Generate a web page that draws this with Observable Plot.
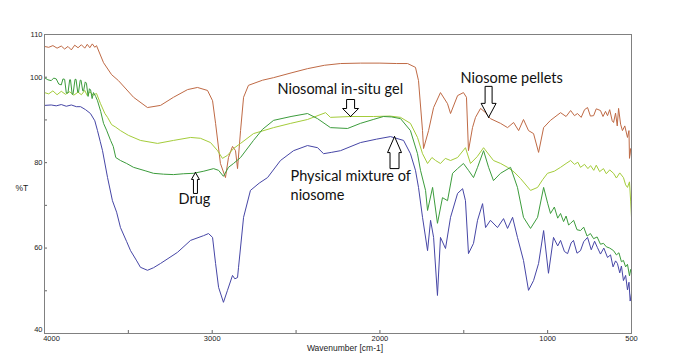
<!DOCTYPE html>
<html>
<head>
<meta charset="utf-8">
<script src="https://cdn.jsdelivr.net/npm/d3@7"></script>
<script src="https://cdn.jsdelivr.net/npm/@observablehq/plot@0.6"></script>
<style>
  html, body { margin: 0; padding: 0; background: #fff; }
  #chart svg { display: block; }
</style>
</head>
<body>
<div id="chart"></div>
<script>
// ---------- data (wavenumber cm-1, %T) ----------
const niosomePellets = [
  [4000,107.2],[3975,107.0],[3950,107.4],[3925,106.8],[3900,107.3],[3880,106.6],[3860,107.2],[3840,106.4],
  [3820,107.5],[3800,106.9],[3780,107.6],[3760,106.8],[3745,107.7],[3730,106.9],[3715,107.8],[3700,107.0],
  [3690,107.4],[3648,103.4],[3600,100.6],[3559,99.2],[3469,95.3],[3386,92.9],[3308,93.4],[3231,95.3],
  [3147,97.1],[3088,97.6],[3028,96.9],[2998,94.5],[2980,89.2],[2951,79.8],[2921,76.5],[2903,81.2],
  [2879,83.8],[2861,82.8],[2849,78.6],[2831,87.5],[2813,95.3],[2784,98.1],[2700,99.3],[2634,99.9],
  [2530,101.0],[2432,102.0],[2330,102.8],[2235,103.2],[2116,103.3],[2000,103.3],[1900,103.2],[1835,103.2],
  [1788,102.3],[1770,99.2],[1746,87.5],[1740,83.3],[1710,87.5],[1680,92.9],[1639,96.4],[1597,93.8],
  [1579,91.5],[1537,95.7],[1502,96.4],[1484,95.3],[1472,82.8],[1448,88.2],[1430,90.6],[1400,92.7],
  [1370,91.7],[1341,90.3],[1281,89.2],[1239,88.2],[1203,89.4],[1173,87.5],[1144,90.1],[1114,87.5],
  [1084,86.8],[1054,82.4],[1024,88.2],[983,89.9],[923,91.7],[890,90.8],[863,92.2],[840,91.0],[822,91.5],
  [800,90.6],[780,92.4],[762,92.9],[745,90.9],[726,91.0],[710,92.6],[685,92.2],[670,90.8],[655,92.0],
  [643,91.0],[630,92.4],[615,89.8],[607,89.4],[595,91.6],[585,88.6],[577,92.7],[565,89.0],[554,87.5],
  [540,88.6],[524,85.9],[515,87.5],[512,81.0],[505,83.3],[500,81.5]
];

const niosomalGel = [
  [4000,96.4],[3975,96.1],[3950,96.8],[3925,95.9],[3900,96.7],[3875,96.0],[3850,96.6],[3825,95.8],
  [3800,96.5],[3780,95.9],[3760,96.9],[3745,95.7],[3730,96.6],[3710,95.8],[3690,96.2],[3666,93.8],
  [3640,91.5],[3624,90.6],[3600,88.9],[3575,88.3],[3547,87.5],[3500,86.4],[3428,85.2],[3326,84.5],
  [3231,85.2],[3129,85.9],[3070,85.7],[3010,84.7],[2968,82.8],[2939,81.0],[2909,81.7],[2873,83.3],
  [2831,84.5],[2754,86.8],[2634,88.2],[2532,89.2],[2432,90.1],[2324,91.7],[2295,90.6],[2175,90.8],
  [2038,90.8],[1940,90.9],[1877,90.6],[1818,89.2],[1776,85.9],[1746,82.1],[1716,79.8],[1690,81.2],
  [1668,80.5],[1639,79.8],[1610,81.0],[1579,80.5],[1537,81.2],[1490,83.5],[1460,79.8],[1420,81.4],
  [1382,83.5],[1323,80.5],[1280,79.8],[1239,78.9],[1200,77.8],[1162,76.3],[1102,73.5],[1060,74.2],
  [1030,76.0],[1001,77.5],[960,78.0],[923,78.9],[890,79.8],[863,80.5],[840,79.6],[820,80.1],
  [804,78.9],[780,79.6],[760,78.6],[744,79.3],[725,78.2],[710,79.4],[690,77.9],[667,78.6],[650,77.4],
  [630,78.3],[607,77.5],[590,76.4],[570,77.6],[548,76.5],[535,74.8],[524,74.2],[512,75.5],[505,71.0],
  [500,67.2]
];

const drug = [
  [4000,99.9],[3980,99.4],[3960,99.2],[3945,99.8],[3930,99.6],[3915,98.4],[3900,98.2],[3890,99.6],
  [3880,99.5],[3870,96.3],[3860,96.3],[3850,99.4],[3845,99.4],[3835,96.0],[3830,96.0],[3818,99.5],
  [3812,99.5],[3802,96.5],[3797,96.5],[3787,99.3],[3782,99.3],[3772,96.8],[3767,96.8],[3757,98.9],
  [3750,98.6],[3740,95.5],[3732,97.3],[3725,97.0],[3716,95.0],[3708,96.4],[3695,95.5],[3684,94.5],
  [3665,92.0],[3648,89.2],[3630,87.6],[3606,85.2],[3590,83.8],[3575,81.2],[3547,80.5],[3510,79.8],
  [3469,78.9],[3400,78.1],[3350,77.5],[3290,77.3],[3231,77.2],[3170,77.4],[3112,77.5],[3050,78.0],
  [2992,78.6],[2962,78.2],[2933,76.8],[2903,78.9],[2873,79.8],[2831,81.2],[2754,85.2],[2700,87.8],
  [2634,89.9],[2530,90.8],[2432,91.5],[2372,90.3],[2295,88.2],[2193,88.0],[2116,89.2],[2040,90.1],
  [1979,90.8],[1930,90.7],[1877,90.3],[1818,87.5],[1776,82.1],[1758,78.2],[1728,73.5],[1716,68.8],
  [1686,74.2],[1657,65.8],[1627,71.8],[1597,71.1],[1567,77.5],[1537,78.6],[1502,79.8],[1472,78.2],
  [1442,76.5],[1418,78.9],[1382,82.8],[1352,78.9],[1323,75.8],[1281,77.5],[1221,78.9],[1180,74.2],
  [1144,67.2],[1102,64.6],[1060,67.2],[1024,74.2],[1000,70.5],[983,68.1],[960,69.6],[940,67.0],
  [923,68.1],[905,66.2],[890,67.5],[875,65.4],[863,65.8],[845,66.5],[825,64.3],[804,64.1],[785,64.9],
  [765,62.8],[745,63.4],[726,62.2],[705,62.6],[685,60.9],[667,61.1],[650,60.3],[630,60.0],[607,59.4],
  [590,58.4],[575,58.9],[560,56.8],[548,57.1],[535,55.6],[524,56.2],[512,53.5],[505,55.0],[500,54.1]
];

const physicalMixture = [
  [4000,93.4],[3960,93.5],[3930,93.3],[3900,93.6],[3870,93.2],[3840,93.5],[3810,93.1],[3785,93.1],
  [3755,92.4],[3726,91.5],[3700,89.8],[3684,87.5],[3668,85.0],[3654,82.8],[3624,76.5],[3595,71.1],
  [3570,68.4],[3547,64.8],[3510,61.5],[3487,59.4],[3450,57.0],[3428,55.5],[3386,54.8],[3350,55.4],
  [3308,56.4],[3207,59.0],[3129,61.8],[3052,62.9],[3022,63.4],[2998,62.5],[2980,56.4],[2962,50.8],
  [2933,47.3],[2909,50.1],[2879,53.6],[2865,52.8],[2849,53.1],[2843,55.5],[2813,67.2],[2772,73.5],
  [2720,75.2],[2670,76.5],[2593,80.5],[2515,82.8],[2432,84.0],[2372,83.5],[2336,82.1],[2290,82.4],
  [2235,82.8],[2116,84.7],[2020,85.5],[1937,86.1],[1859,85.2],[1818,82.1],[1788,78.2],[1770,74.2],
  [1746,67.2],[1716,59.4],[1698,66.5],[1680,62.5],[1657,48.9],[1639,62.5],[1609,59.9],[1579,67.2],
  [1537,72.8],[1507,73.9],[1490,71.1],[1472,58.7],[1442,61.1],[1418,66.5],[1388,70.4],[1370,64.8],
  [1341,66.5],[1299,64.8],[1263,66.9],[1239,64.6],[1209,67.2],[1180,62.5],[1144,57.1],[1114,50.1],
  [1084,52.4],[1054,56.4],[1024,64.1],[995,54.1],[965,62.5],[940,60.5],[923,61.8],[900,59.2],
  [881,58.7],[860,61.2],[846,61.8],[825,58.8],[804,59.4],[785,61.5],[762,62.5],[740,59.6],[720,61.6],
  [703,60.1],[685,58.6],[665,60.0],[643,57.8],[625,58.4],[610,55.6],[595,57.0],[584,56.4],[570,54.2],
  [560,55.8],[548,52.4],[535,53.6],[524,50.2],[515,52.0],[508,47.6],[500,49.4]
];

const seriesNames = ["Niosome pellets", "Niosomal in-situ gel", "Drug", "Physical mixture of niosome"];
const seriesValues = [niosomePellets, niosomalGel, drug, physicalMixture];

const xTicks = [4000, 3500, 3000, 2500, 2000, 1500, 1000, 500];
const xTickLabels = [3000, 2000, 1000, 500];
const yTicks = [40, 50, 60, 70, 80, 90, 100, 110];
const yTickLabels = [60, 80, 100, 110];

// annotation texts and their anchor (wavenumber, %T)
const noteTexts = ["Niosomal in-situ gel", "Niosome pellets", "Physical mixture of", "niosome", "Drug"];
const noteWn = [2611, 1519, 2533, 2533, 3201];
const noteT = [97.1, 99.7, 76.8, 72.3, 71.4];

// arrow tips (wavenumber, %T) and direction
const arrowWn = [3100, 2175, 1352, 1913];
const arrowT = [77.7, 90.8, 90.6, 86.1];
const arrowDir = ["up", "down", "down", "up"];

// ---------- styling / layout ----------
const colors = ["#bf6a45", "#a4cc3a", "#3c9c3c", "#4646a6"];
const W = 682, H = 355;
const mL = 44, mR = 51, mT = 34, mB = 22;
const xDomain = [4000, 500], yDomain = [40, 110];
const kx = (xDomain[0] - xDomain[1]) / (W - mL - mR); // cm-1 per px
const ky = (yDomain[1] - yDomain[0]) / (H - mT - mB); // %T per px

// arrow sizes in px: [total length, head length, head width, shaft width]
const arrowSizes = [[21, 7, 8, 4], [17, 8, 16, 8], [31, 14, 15, 7], [32, 16, 14, 9]];

const lineData = seriesValues.flatMap((arr, i) =>
  arr.map(([wn, t]) => ({series: seriesNames[i], wn, t})));

const arrowPts = [];
arrowWn.forEach((wn, i) => {
  const [L, hl, hw, sw] = arrowSizes[i];
  const s = arrowDir[i] === "up" ? 1 : -1;
  const shape = [[0,0],[hw/2,hl],[sw/2,hl],[sw/2,L],[-sw/2,L],[-sw/2,hl],[-hw/2,hl],[0,0]];
  shape.forEach(([dx, dy]) => arrowPts.push({id: i, wn: wn - dx * kx, t: arrowT[i] - s * dy * ky}));
});

const notes = noteTexts.map((text, i) => ({text, wn: noteWn[i], t: noteT[i]}));

const tickFont = "'Liberation Sans', Arial, sans-serif";
const fmt = d => String(d);

const plot = Plot.plot({
  width: W,
  height: H,
  marginLeft: mL,
  marginRight: mR,
  marginTop: mT,
  marginBottom: mB,
  style: {background: "#fff", fontFamily: tickFont},
  x: {domain: xDomain},
  y: {domain: yDomain},
  color: {domain: seriesNames, range: colors},
  marks: [
    // inward ticks
    Plot.axisX({ticks: xTicks, tickSize: -3, tickFormat: () => "", stroke: "#666", label: null}),
    Plot.axisY({ticks: yTicks, tickSize: -3, tickFormat: () => "", stroke: "#666", label: null}),
    // tick labels
    Plot.axisX({ticks: xTickLabels, tickSize: 0, tickPadding: 2, tickFormat: fmt, fontSize: 7.5, fill: "#222", label: null}),
    Plot.axisX({ticks: [4000], tickSize: 0, tickPadding: 2, tickFormat: fmt, dx: 7, fontSize: 7.5, fill: "#222", label: null}),
    Plot.axisY({ticks: yTickLabels, tickSize: 0, tickPadding: 2, tickFormat: fmt, fontSize: 7.5, fill: "#222", label: null}),
    Plot.axisY({ticks: [40], tickSize: 0, tickPadding: 2, tickFormat: fmt, dy: -4, fontSize: 7.5, fill: "#222", label: null}),
    // axis titles
    Plot.text(["Wavenumber [cm-1]"], {frameAnchor: "bottom", dy: 17.5, dx: 7, fontSize: 8.5, fill: "#222"}),
    Plot.text(["%T"], {frameAnchor: "left", textAnchor: "start", dx: -29, dy: 4, fontSize: 8.5, fill: "#222"}),
    // spectra
    Plot.line(lineData, {x: "wn", y: "t", z: "series", stroke: "series", strokeWidth: 1}),
    Plot.frame({stroke: "#808080"}),
    // annotations
    Plot.line(arrowPts, {x: "wn", y: "t", z: "id", fill: "white", stroke: "black", strokeWidth: 1, curve: "linear"}),
    Plot.text(notes, {x: "wn", y: "t", text: "text", textAnchor: "start", lineAnchor: "middle",
      fontSize: 14.5, fontFamily: "Lato, 'Open Sans', sans-serif", fill: "#111"})
  ]
});

document.getElementById("chart").append(plot);
</script>
</body>
</html>
